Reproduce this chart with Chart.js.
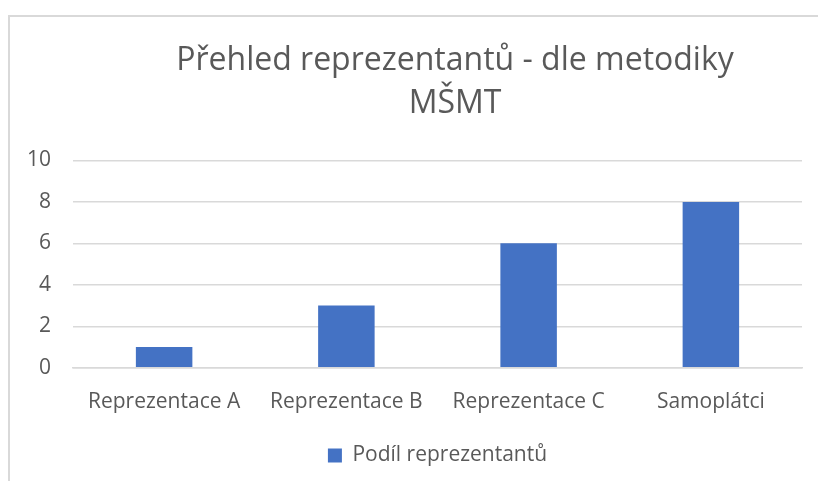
<!DOCTYPE html>
<html><head><meta charset="utf-8">
<script src="https://cdn.jsdelivr.net/npm/chart.js@4.4.0/dist/chart.umd.min.js"></script>
<style>
html,body{margin:0;padding:0;background:#fff;overflow:hidden;width:818px;height:481px;}
#box{position:absolute;left:8px;top:15px;width:1000px;height:600px;border-left:2px solid #d9d9d9;border-top:2px solid #d9d9d9;}
#wrap{position:absolute;left:10px;top:17px;width:890px;height:464px;}
</style></head><body>
<div id="box"></div>
<div id="wrap"><canvas id="c"></canvas></div>
<script>
const categories = ["Reprezentace A","Reprezentace B","Reprezentace C","Samoplátci"];
const values = [1,3,6,8];
const seriesName = "Podíl reprezentantů";
const titleLines = ["Přehled reprezentantů - dle metodiky","MŠMT"];

const FONT = "'Open Sans', sans-serif";
new Chart(document.getElementById('c'), {
  type: 'bar',
  data: { labels: categories, datasets: [{ label: seriesName, data: values, backgroundColor: '#4472C4', barPercentage: 0.62, categoryPercentage: 0.5 }] },
  options: {
    responsive: true, maintainAspectRatio: false, animation: false,
    layout: { padding: { top: 0, right: 0, bottom: 5, left: 0 } },
    plugins: {
      title: { display: true, text: titleLines, color: '#595959', font: { family: FONT, size: 32, weight: 'normal', lineHeight: 1.35 }, padding: { top: 22, bottom: 35 } },
      legend: { position: 'bottom', fullSize: false, labels: { color: '#595959', font: { family: FONT, size: 21 }, boxWidth: 14, boxHeight: 14, padding: 8 } },
      tooltip: { enabled: false }
    },
    scales: {
      y: { min: 0, max: 10, ticks: { stepSize: 2, color: '#595959', font: { family: FONT, size: 21 }, padding: 22 },
           grid: { color: '#d9d9d9', lineWidth: 1.5, drawTicks: false }, border: { display: false },
           afterFit: s => { s.width = 63; } },
      y2: { position: 'right', grid: { display: false }, border: { display: false }, ticks: { display: false },
            afterFit: s => { s.width = 98; } },
      x: { ticks: { color: '#595959', font: { family: FONT, size: 21 }, padding: 22, maxRotation: 0 },
           grid: { display: false, drawTicks: false }, border: { display: true, color: '#d9d9d9', width: 1.5 } }
    }
  }
});
</script></body></html>
